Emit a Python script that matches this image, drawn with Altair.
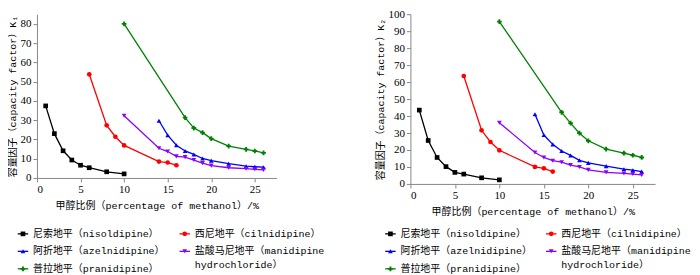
import altair as alt
import pandas as pd

# ---- data ----
labels = [
    "尼索地平（nisoldipine）",
    "西尼地平（cilnidipine）",
    "阿折地平（azelnidipine）",
    "盐酸马尼地平（manidipine hydrochloride）",
    "普拉地平（pranidipine）",
]
colors = ["#000000", "#FF0000", "#0000FF", "#8B00FF", "#008000"]
shapes = ["square", "circle", "triangle-up", "triangle-down", "cross"]

nis_x = [1, 2, 3, 4, 5, 6, 8, 10]
cil_x = [6, 8, 9, 10, 14, 15, 16]
aze_x = [14, 15, 16, 17, 18, 19, 20, 22, 24, 25, 26]
man_x = [10, 14, 15, 16, 17, 18, 19, 20, 22, 24, 25, 26]
pra_x = [10, 17, 18, 19, 20, 22, 24, 25, 26]

k1_nis = [37.4, 23.0, 14.1, 9.3, 6.6, 5.3, 3.2, 2.1]
k1_cil = [53.8, 27.3, 21.4, 16.9, 8.5, 8.0, 6.6]
k1_aze = [29.7, 22.2, 17.0, 14.0, 12.2, 10.1, 9.0, 7.4, 6.1, 5.8, 5.6]
k1_man = [32.3, 15.4, 13.7, 11.2, 10.8, 9.3, 7.7, 6.4, 5.3, 4.8, 4.5, 4.2]
k1_pra = [80.0, 31.3, 25.9, 23.5, 20.4, 16.5, 14.8, 14.0, 13.0]

k2_nis = [43.5, 25.6, 15.6, 10.2, 6.8, 5.8, 3.6, 2.4]
k2_cil = [63.6, 31.6, 24.7, 19.8, 10.0, 9.2, 7.3]
k2_aze = [41.0, 28.8, 23.3, 19.4, 16.8, 13.9, 12.4, 10.5, 8.7, 8.1, 7.3]
k2_man = [36.0, 18.5, 15.6, 13.7, 12.8, 11.1, 10.0, 8.3, 6.8, 6.2, 5.8, 5.3]
k2_pra = [95.6, 42.2, 35.8, 29.9, 25.4, 20.5, 18.1, 16.9, 15.6]

x_title = "甲醇比例（percentage of methanol）/%"
y1_title = "容量因子（capacity factor）K₁"
y2_title = "容量因子（capacity factor）K₂"

FONT = "Liberation Mono, Noto Sans CJK SC"
TICKFONT = "Liberation Serif"

xs = [nis_x, cil_x, aze_x, man_x, pra_x]


def make_df(ys):
    rows = []
    for i, (xv, yv) in enumerate(zip(xs, ys)):
        for a, b in zip(xv, yv):
            rows.append({"x": a, "y": b, "drug": labels[i]})
    return pd.DataFrame(rows)


# legend table: two columns, row-major; the long label wraps onto a 2nd line
leg_sym = pd.DataFrame(
    [{"col": i % 2, "row": i // 2, "drug": lab} for i, lab in enumerate(labels)]
)
leg_txt_rows = []
for i, lab in enumerate(labels):
    parts = lab.split(" ")
    leg_txt_rows.append({"col": i % 2, "row": i // 2, "text": parts[0]})
    for extra in parts[1:]:
        leg_txt_rows.append({"col": i % 2, "row": i // 2 + 0.8, "text": extra})
leg_txt = pd.DataFrame(leg_txt_rows)

cscale = alt.Scale(domain=labels, range=colors)
sscale = alt.Scale(domain=labels, range=shapes)


def panel(ys, ytitle, ymax, width, height, leg_x_range, leg_y_range):
    df = make_df(ys)
    xenc = alt.X("x:Q", scale=alt.Scale(domain=[0, 27.5], nice=False),
                 axis=alt.Axis(values=[0, 5, 10, 15, 20, 25], title=x_title,
                               titlePadding=6))
    yenc = alt.Y("y:Q", scale=alt.Scale(domain=[0, ymax], nice=False),
                 axis=alt.Axis(values=list(range(0, ymax + 1, 10)),
                               title=ytitle, titlePadding=2))
    cenc = alt.Color("drug:N", scale=cscale, legend=None)
    senc = alt.Shape("drug:N", scale=sscale, legend=None)
    lines = alt.Chart(df).mark_line(strokeWidth=1.3).encode(
        x=xenc, y=yenc, color=cenc, detail="drug:N")
    pts = alt.Chart(df).mark_point(filled=True, size=22, opacity=1).encode(
        x=xenc, y=yenc, color=cenc, shape=senc)
    plot = alt.layer(lines, pts)

    lx = alt.X("col:Q", scale=alt.Scale(domain=[0, 1], range=leg_x_range), axis=None)
    ly = alt.Y("row:Q", scale=alt.Scale(domain=[0, 2], range=leg_y_range), axis=None)
    leg_line = alt.Chart(leg_sym).mark_point(
        shape="stroke", size=110, strokeWidth=1.3, filled=False, opacity=1
    ).encode(x=lx, y=ly, color=cenc)
    leg_mark = alt.Chart(leg_sym).mark_point(
        filled=True, size=22, opacity=1
    ).encode(x=lx, y=ly, color=cenc, shape=senc)
    leg_text = alt.Chart(leg_txt).mark_text(
        align="left", baseline="middle", dx=10, font=FONT, fontSize=10,
        color="#000000"
    ).encode(x=lx, y=ly, text="text:N")
    legend = alt.layer(leg_line, leg_mark, leg_text)

    return alt.layer(plot, legend).resolve_scale(
        x="independent", y="independent"
    ).properties(width=width, height=height)


left = panel([k1_nis, k1_cil, k1_aze, k1_man, k1_pra], y1_title, 85,
             240, 164, [-14, 148], [220, 255])
right = panel([k2_nis, k2_cil, k2_aze, k2_man, k2_pra], y2_title, 100,
              245, 170, [-20, 141], [220, 255])

chart = alt.hconcat(left, right, spacing=50).resolve_scale(
    color="independent", shape="independent"
).properties(padding={"left": 0, "top": 0, "right": 0, "bottom": 0}).configure_view(
    stroke=None
).configure_axis(
    grid=False, domainColor="#888888", tickColor="#888888", tickSize=4,
    labelFont=TICKFONT, labelFontSize=11, labelColor="#000000", labelPadding=2,
    titleFont=FONT, titleFontSize=10, titleFontWeight="normal",
    titleColor="#000000",
)

chart.save("out.html", embed_options={"renderer": "svg", "actions": False})
